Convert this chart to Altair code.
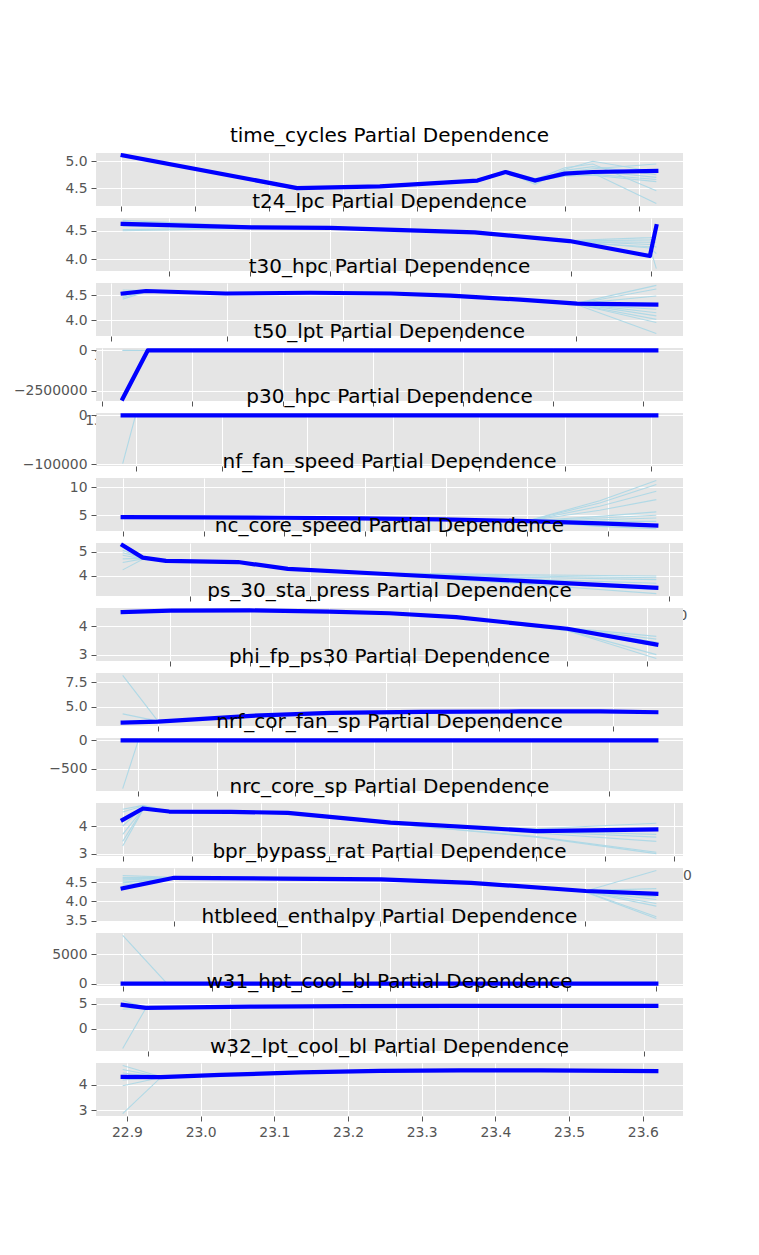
import altair as alt
import pandas as pd

# ---------------- data ----------------
FEATURES = ["time_cycles", "t24_lpc", "t30_hpc", "t50_lpt", "p30_hpc", "nf_fan_speed",
            "nc_core_speed", "ps_30_sta_press", "phi_fp_ps30", "nrf_cor_fan_sp",
            "nrc_core_sp", "bpr_bypass_rat", "htbleed_enthalpy", "w31_hpt_cool_bl",
            "w32_lpt_cool_bl"]

TIME_X = [1, 119, 175, 241, 260, 280, 300, 319, 362]
TIME_PD = [5.11, 4.50, 4.53, 4.64, 4.80, 4.64, 4.77, 4.80, 4.82]
TIME_ICE = [
    [5.10, 4.50, 4.53, 4.63, 4.79, 4.60, 4.80, 4.86, 4.95],
    [5.11, 4.51, 4.54, 4.65, 4.81, 4.57, 4.85, 5.00, 4.80],
    [5.10, 4.50, 4.53, 4.64, 4.80, 4.66, 4.88, 4.95, 4.45],
    [5.11, 4.50, 4.53, 4.64, 4.80, 4.65, 4.76, 4.78, 4.21],
    [5.10, 4.49, 4.52, 4.62, 4.78, 4.62, 4.74, 4.82, 4.70],
    [5.11, 4.51, 4.54, 4.66, 4.82, 4.68, 4.78, 4.76, 4.66],
    [5.10, 4.50, 4.53, 4.64, 4.80, 4.64, 4.83, 4.90, 4.75],
    [5.11, 4.50, 4.53, 4.64, 4.80, 4.63, 4.72, 4.74, 4.62],
]

T24_X = [641.21, 642.01, 642.50, 643.40, 643.99, 644.49, 644.53]
T24_PD = [4.62, 4.56, 4.55, 4.47, 4.32, 4.06, 4.58]
T24_ICE = [
    [4.68, 4.58, 4.56, 4.48, 4.33, 4.38, 4.39],
    [4.65, 4.57, 4.55, 4.47, 4.32, 4.34, 4.36],
    [4.58, 4.55, 4.55, 4.47, 4.31, 4.30, 4.30],
    [4.52, 4.55, 4.54, 4.46, 4.32, 4.26, 4.21],
    [4.50, 4.54, 4.54, 4.46, 4.30, 4.22, 3.84],
    [4.63, 4.57, 4.55, 4.47, 4.32, 4.20, 4.10],
]

T30_X = [1571.04, 1573.05, 1579.9, 1587.2, 1594.1, 1599.2, 1605.2, 1610.1, 1616.91]
T30_PD = [4.53, 4.58, 4.53, 4.545, 4.53, 4.49, 4.41, 4.33, 4.31]
T30_ICE = [
    [4.60, 4.59, 4.53, 4.55, 4.53, 4.49, 4.41, 4.34, 4.69],
    [4.55, 4.60, 4.53, 4.55, 4.53, 4.49, 4.41, 4.33, 4.62],
    [4.50, 4.58, 4.53, 4.54, 4.53, 4.49, 4.41, 4.33, 4.48],
    [4.45, 4.57, 4.52, 4.54, 4.52, 4.48, 4.40, 4.32, 4.22],
    [4.42, 4.56, 4.52, 4.54, 4.52, 4.48, 4.40, 4.33, 4.15],
    [4.48, 4.57, 4.53, 4.55, 4.53, 4.49, 4.41, 4.33, 4.09],
    [4.52, 4.58, 4.53, 4.55, 4.53, 4.49, 4.41, 4.32, 4.02],
    [4.56, 4.58, 4.53, 4.54, 4.53, 4.49, 4.40, 4.32, 3.96],
    [4.53, 4.57, 4.52, 4.54, 4.52, 4.48, 4.40, 4.31, 3.74],
]

T50_X = [1382.25, 1385.03, 1396.5, 1413.1, 1429.7, 1441.49]
T50_PD = [-3000000, 0, 0, 0, 0, 0]
T50_ICE = [
    [2000, 0, 0, 0, 0, 0],
    [-3000, 0, 0, 0, 0, 0],
    [0, 0, 0, 0, 0, 0],
]

P30_X = [549.85, 550.0, 551.34, 553.08, 554.83, 556.06]
P30_PD = [0, 0, 0, 0, 0, 0]
P30_ICE = [
    [-98800, 0, 0, 0, 0, 0],
    [0, 0, 0, 0, 0, 0],
]

NF_X = [2387.90, 2387.997, 2388.095, 2388.194, 2388.293, 2388.40, 2388.49, 2388.56]
NF_PD = [4.65, 4.60, 4.55, 4.45, 4.25, 3.95, 3.55, 3.15]
NF_ICE = [
    [4.60, 4.60, 4.55, 4.45, 4.25, 3.95, 7.60, 11.25],
    [4.60, 4.60, 4.55, 4.45, 4.25, 3.95, 7.20, 10.50],
    [4.70, 4.60, 4.55, 4.45, 4.25, 3.95, 6.60, 9.30],
    [4.70, 4.60, 4.55, 4.45, 4.25, 3.95, 5.90, 7.80],
    [4.60, 4.60, 4.55, 4.45, 4.25, 3.95, 4.80, 5.60],
    [4.70, 4.60, 4.55, 4.45, 4.25, 3.95, 4.50, 5.00],
    [4.60, 4.60, 4.55, 4.45, 4.25, 3.95, 4.20, 4.50],
    [4.70, 4.60, 4.55, 4.45, 4.25, 3.95, 3.90, 3.90],
    [4.60, 4.60, 4.55, 4.45, 4.25, 3.95, 3.00, 2.60],
]

NC_X = [9021.73, 9030.1, 9039.8, 9069.9, 9090.7, 9133.7, 9187.9, 9244.59]
NC_PD = [5.25, 4.75, 4.62, 4.57, 4.29, 4.07, 3.80, 3.52]
NC_ICE = [
    [5.05, 4.72, 4.62, 4.57, 4.30, 4.12, 4.05, 4.00],
    [4.85, 4.70, 4.62, 4.57, 4.30, 4.10, 4.00, 3.93],
    [4.55, 4.70, 4.61, 4.56, 4.29, 4.09, 3.95, 3.85],
    [4.25, 4.68, 4.61, 4.56, 4.29, 4.07, 3.88, 3.70],
    [4.95, 4.74, 4.62, 4.57, 4.28, 4.04, 3.74, 3.45],
    [4.70, 4.72, 4.62, 4.57, 4.28, 4.03, 3.68, 3.28],
]

PS30_X = [46.85, 47.0, 47.25, 47.50, 47.69, 47.90, 48.25, 48.53]
PS30_PD = [4.51, 4.56, 4.57, 4.53, 4.47, 4.33, 3.92, 3.36]
PS30_ICE = [
    [4.50, 4.55, 4.57, 4.53, 4.47, 4.33, 3.95, 3.65],
    [4.52, 4.56, 4.57, 4.53, 4.47, 4.33, 3.93, 3.55],
    [4.50, 4.56, 4.57, 4.53, 4.47, 4.33, 3.92, 3.45],
    [4.51, 4.56, 4.57, 4.53, 4.47, 4.33, 3.90, 3.30],
    [4.50, 4.56, 4.56, 4.52, 4.46, 4.32, 3.86, 3.00],
    [4.51, 4.56, 4.56, 4.52, 4.46, 4.32, 3.85, 2.86],
]

PHI_X = [518.69, 519.0, 519.82, 520.52, 521.31, 522.19, 522.89, 523.38]
PHI_PD = [3.35, 3.45, 4.05, 4.35, 4.45, 4.50, 4.50, 4.42]
PHI_ICE = [
    [8.20, 3.50, 4.05, 4.35, 4.45, 4.50, 4.50, 4.45],
    [4.25, 3.50, 4.05, 4.35, 4.45, 4.50, 4.50, 4.40],
    [3.25, 3.45, 4.05, 4.35, 4.45, 4.50, 4.50, 4.40],
]

NRF_X = [2387.88, 2387.90, 2388.04, 2388.23, 2388.42, 2388.56]
NRF_PD = [0, 0, 0, 0, 0, 0]
NRF_ICE = [
    [-845, 0, 0, 0, 0, 0],
    [0, 0, 0, 0, 0, 0],
]

NRC_X = [8099.94, 8107.3, 8116.8, 8139.2, 8159.9, 8197.2, 8250.2, 8293.72]
NRC_PD = [4.22, 4.63, 4.52, 4.51, 4.47, 4.12, 3.82, 3.88]
NRC_ICE = [
    [4.60, 4.74, 4.53, 4.52, 4.47, 4.15, 3.90, 4.10],
    [4.50, 4.72, 4.54, 4.52, 4.47, 4.14, 3.82, 3.70],
    [4.00, 4.66, 4.53, 4.51, 4.46, 4.12, 3.80, 3.60],
    [3.70, 4.62, 4.52, 4.51, 4.45, 4.10, 3.75, 3.45],
    [3.45, 4.60, 4.51, 4.50, 4.44, 4.08, 3.62, 3.06],
    [3.28, 4.58, 4.51, 4.50, 4.44, 4.08, 3.60, 3.01],
]

BPR_X = [8.3249, 8.35, 8.402, 8.4507, 8.4945, 8.5504, 8.5848]
BPR_PD = [4.34, 4.61, 4.59, 4.57, 4.48, 4.27, 4.20]
BPR_ICE = [
    [4.67, 4.62, 4.59, 4.57, 4.48, 4.27, 4.80],
    [4.62, 4.61, 4.59, 4.57, 4.48, 4.28, 4.33],
    [4.55, 4.61, 4.59, 4.57, 4.48, 4.27, 4.12],
    [4.48, 4.60, 4.58, 4.56, 4.47, 4.26, 4.05],
    [4.42, 4.60, 4.58, 4.56, 4.47, 4.26, 3.95],
    [4.60, 4.61, 4.59, 4.57, 4.48, 4.25, 3.88],
    [4.50, 4.60, 4.58, 4.56, 4.47, 4.25, 3.61],
    [4.58, 4.61, 4.59, 4.57, 4.48, 4.24, 3.56],
]

HTB_X = [388, 389, 392, 395.4, 397.6, 400]
HTB_PD = [4.4, 4.3, 4.3, 4.3, 4.3, 4.3]
HTB_ICE = [
    [8200, 4.3, 4.3, 4.3, 4.3, 4.3],
    [4.5, 4.3, 4.3, 4.3, 4.3, 4.3],
]

W31_X = [38.14, 38.196, 38.45, 38.69, 38.93, 39.17, 39.43]
W31_PD = [4.75, 4.15, 4.40, 4.50, 4.55, 4.55, 4.55]
W31_ICE = [
    [5.65, 4.20, 4.40, 4.50, 4.55, 4.55, 4.55],
    [5.10, 4.20, 4.40, 4.50, 4.55, 4.55, 4.55],
    [4.50, 4.15, 4.40, 4.50, 4.55, 4.55, 4.55],
    [3.90, 4.15, 4.40, 4.50, 4.55, 4.55, 4.55],
    [-3.95, 4.10, 4.40, 4.50, 4.55, 4.55, 4.55],
]

W32_X = [22.8942, 22.946, 23.027, 23.136, 23.244, 23.353, 23.461, 23.6184]
W32_PD = [4.32, 4.31, 4.40, 4.50, 4.56, 4.58, 4.58, 4.55]
W32_ICE = [
    [4.78, 4.33, 4.40, 4.50, 4.56, 4.58, 4.58, 4.55],
    [4.62, 4.32, 4.40, 4.50, 4.56, 4.58, 4.58, 4.55],
    [4.48, 4.32, 4.40, 4.50, 4.56, 4.58, 4.58, 4.55],
    [4.20, 4.31, 4.40, 4.50, 4.56, 4.58, 4.58, 4.55],
    [3.97, 4.30, 4.40, 4.50, 4.56, 4.58, 4.58, 4.55],
    [2.86, 4.30, 4.40, 4.50, 4.56, 4.58, 4.58, 4.55],
]

# tick labels (values and formats) per panel
X_TICKS = [
    [0, 50, 100, 150, 200, 250, 300, 350],
    [641.5, 642.0, 642.5, 643.0, 643.5, 644.0, 644.5],
    [1570, 1580, 1590, 1600, 1610],
    [1380, 1390, 1400, 1410, 1420, 1430, 1440],
    [550, 551, 552, 553, 554, 555, 556],
    [2387.9, 2388.0, 2388.1, 2388.2, 2388.3, 2388.4, 2388.5],
    [9050, 9100, 9150, 9200, 9250],
    [47.0, 47.25, 47.5, 47.75, 48.0, 48.25, 48.5],
    [519, 520, 521, 522, 523],
    [2387.9, 2388.0, 2388.1, 2388.2, 2388.3, 2388.4, 2388.5],
    [8100, 8125, 8150, 8175, 8200, 8225, 8250, 8275, 8300],
    [8.35, 8.40, 8.45, 8.50, 8.55],
    [388, 390, 392, 394, 396, 398, 400],
    [38.2, 38.4, 38.6, 38.8, 39.0, 39.2, 39.4],
    [22.9, 23.0, 23.1, 23.2, 23.3, 23.4, 23.5, 23.6],
]
X_FMT = ["d", ".1f", "d", "d", "d", ".1f", "d", ".2f", "d", ".1f", "d", ".2f", "d", ".1f", ".1f"]
Y_TICKS = [
    [4.5, 5.0], [4.0, 4.5], [4.0, 4.5], [-2500000, 0], [-100000, 0],
    [5, 10], [4, 5], [3, 4], [5.0, 7.5], [-500, 0],
    [3, 4], [3.5, 4.0, 4.5], [0, 5000], [0, 5], [3, 4],
]
Y_FMT = [".1f", ".1f", ".1f", "d", "d", "d", "d", "d", ".1f", "d", "d", ".1f", "d", "d", "d"]

SERIES = [
    (TIME_X, TIME_PD, TIME_ICE), (T24_X, T24_PD, T24_ICE), (T30_X, T30_PD, T30_ICE),
    (T50_X, T50_PD, T50_ICE), (P30_X, P30_PD, P30_ICE), (NF_X, NF_PD, NF_ICE),
    (NC_X, NC_PD, NC_ICE), (PS30_X, PS30_PD, PS30_ICE), (PHI_X, PHI_PD, PHI_ICE),
    (NRF_X, NRF_PD, NRF_ICE), (NRC_X, NRC_PD, NRC_ICE), (BPR_X, BPR_PD, BPR_ICE),
    (HTB_X, HTB_PD, HTB_ICE), (W31_X, W31_PD, W31_ICE), (W32_X, W32_PD, W32_ICE),
]

PANEL_W = 587
PANEL_H = 53
BASE_TITLE_OFFSET = 6.5


def margin_domain(values):
    lo, hi = min(values), max(values)
    pad = 0.05 * (hi - lo)
    return [lo - pad, hi + pad]


def top_label_overflow(dom, ticks):
    # how far a y tick label near the top edge sticks out above the plot
    span = dom[1] - dom[0]
    dist = min((dom[1] - t) / span * PANEL_H for t in ticks)
    return max(0.0, 7.0 - dist)


def make_panel(i):
    xs, pdv, ice = SERIES[i]
    ice_rows = []
    for k, line in enumerate(ice):
        for x, y in zip(xs, line):
            ice_rows.append({"x": x, "y": y, "line": k})
    ice_df = pd.DataFrame(ice_rows)
    pd_df = pd.DataFrame({"x": xs, "y": pdv})
    all_y = list(pdv) + [v for line in ice for v in line]
    ydom = margin_domain(all_y)
    last = i == len(FEATURES) - 1

    xenc = alt.X("x:Q",
                 scale=alt.Scale(domain=margin_domain(xs), nice=False, zero=False),
                 axis=alt.Axis(values=X_TICKS[i], format=X_FMT[i], title=None,
                               labelPadding=4 if last else 7))
    yenc = alt.Y("y:Q",
                 scale=alt.Scale(domain=ydom, nice=False, zero=False),
                 axis=alt.Axis(values=Y_TICKS[i], format=Y_FMT[i], title=None,
                               labelPadding=4))

    ice_layer = alt.Chart(ice_df).mark_line(
        color="#ADD8E6", strokeWidth=1.1, opacity=0.95, clip=True
    ).encode(x=xenc, y=yenc, detail="line:N")
    pd_layer = alt.Chart(pd_df).mark_line(
        color="#0000FF", strokeWidth=4.2, strokeJoin="round", strokeCap="square"
    ).encode(x=xenc, y=yenc)

    offset = BASE_TITLE_OFFSET - top_label_overflow(ydom, Y_TICKS[i])
    return alt.layer(ice_layer, pd_layer).properties(
        width=PANEL_W, height=PANEL_H,
        title=alt.TitleParams(text=f"{FEATURES[i]} Partial Dependence", offset=offset),
    )


panels = [make_panel(i) for i in range(len(FEATURES))]

chart = alt.vconcat(*panels, spacing=12, bounds="flush").resolve_scale(
    x="independent", y="independent"
).properties(
    padding={"left": 13, "top": 125, "right": 5, "bottom": 5},
    background="white",
).configure_view(
    fill="#E5E5E5", stroke=None
).configure_axis(
    grid=True, gridColor="white", gridWidth=1, domain=False,
    tickColor="#555555", tickSize=5, tickWidth=1,
    labelColor="#555555", labelFont="DejaVu Sans", labelFontSize=13.9,
    labelFlush=False, labelOverlap=False,
).configure_title(
    font="DejaVu Sans", fontSize=20, fontWeight="normal", color="black",
    anchor="middle", frame="group", baseline="alphabetic",
)

chart.save("out.html", embed_options={"renderer": "svg", "actions": False})
